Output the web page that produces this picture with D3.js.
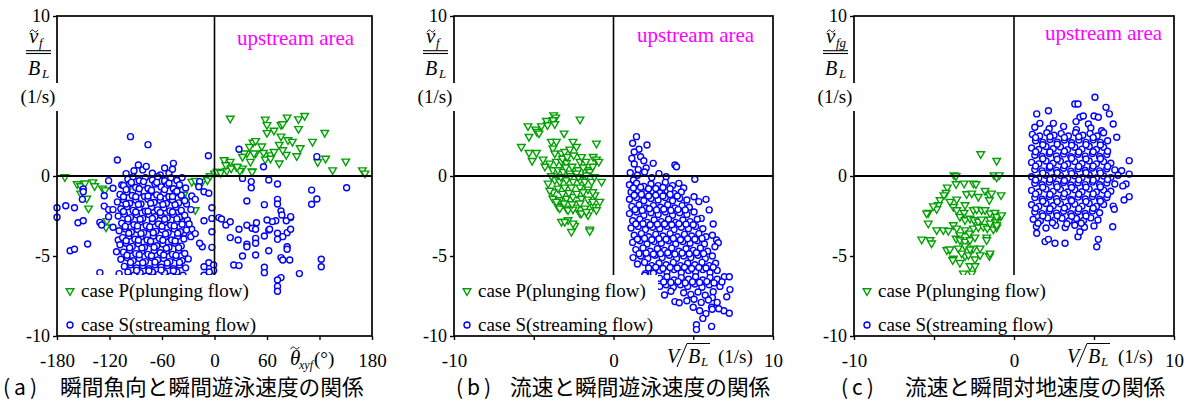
<!DOCTYPE html>
<html>
<head>
<meta charset="utf-8">
<script src="https://cdn.jsdelivr.net/npm/d3@7"></script>
<style>
  body { margin: 0; background: #fff; }
  text { font-family: "Liberation Serif", "Times New Roman", serif; }
  .cap { font-family: "Noto Sans CJK JP", sans-serif; }
</style>
</head>
<body>
<svg width="1190" height="405"></svg>
<script>
// ---- data ----
const yTicks = [-10, -5, 0, 5, 10];
const aXTicks = [-180, -120, -60, 0, 60, 120, 180];
const bcXTicks = [-10, -5, 0, 5, 10];

// (a) fish heading angle (deg) vs swimming speed (1/s)
const aTriangles = [
  [-171,-0.06],[-157,-0.5],[-153,-0.62],[-148,-0.45],[-139,-0.38],[-137,-0.62],[-128,-0.77],[-125,-0.88],
  [-153,-1.08],[-146,-1.4],[-144,-2.02],[-100,-0.92],[-123,-2.8],[-124,-3.2],[-43,-0.88],[-35,-1.15],
  [-37,-1.4],[-33,-1.6],[-22,-2.12],[-26,-0.35],[-22,-0.29],[-14,-0.35],[-8,-0.25],[-5,0],[0,0.17],[4,0.27],[-45,-0.9],
  [3,0.27],[7,0.21],[14,0.33],[11,1.0],[18,0.9],[13,0.69],[19,0.48],[25,0.58],[32,0.48],[29,0.33],[43,0.31],
  [18,3.6],[58,3.54],[60,3.2],[83,3.67],[96,3.56],[103,3.77],[96,2.95],[76,3.2],[78,3.25],[68,2.85],[60,2.7],
  [76,2.48],[84,2.25],[89,2.15],[74,1.96],[44,2.1],[47,2.2],[54,1.86],[40,1.83],[112,2.15],[126,2.71],[98,1.75],
  [94,1.25],[82,1.33],[78,1.63],[74,0.8],[64,1.31],[68,1.52],[47,1.42],[37,1.42],[34,1.42],[45,1.42],[56,1.46],
  [32,1.21],[41,0.9],[43,0.27],[26,0.58],[58,1.04],[64,1.1],[118,0.88],[127,1.1],[135,0.37],[150,0.92],[169,0.37],[172,0.17]
];
const aCircles = [
  [-96,2.46],[-76,1.96],[-111,1.0],[-7,1.27],[-101,0.15],[-47,0.79],[28,1.67],[117,1.21],[56,0.58],
  [-180,-1.98],[-180,-2.58],[-170,-1.86],[-160,-1.98],[-156,-2.92],[-150,-2.8],[-165,-4.67],[-160,-4.58],[-145,-4.25],
  [-150,-0.81],[-150,-0.98],[-151,-1.46],[-131,-6.04],[-126,-1.23],[-121,-0.29],[-116,-0.77],[-106,-0.56],[-126,-1.88],
  [-121,-2.1],[-116,-2.1],[-131,-2.9],[-129,-3.06],[-121,-2.54],[-116,-3.2],[-112,-4.73],[-110,-4.0],
  [-3,-1.98],[-3,-2.65],[-3,-3.48],[-3,-4.46],[-6.5,-5.42],[-3,-6.04],[-12,-5.67],[-14,-4.42],[-17,-4.2],[-12,-2.8],[-26,-3.33],
  [-12,-0.98],[-17,-0.35],[-26,-1.25],[-22,-1.46],[-32,-1.75],[-27,-2.1],[-31,-2.75],[-29,-3.0],[-37,-2.5],[-35,-3.58],
  [-27,-3.79],[-22,-3.6],[5,-2.6],[-1,-5.56],[-1,-5.9],[-12,-6.2],[-6,-6.0],[-18,-0.67],[-6.5,-1.08],
  [32,-0.15],[42,-0.35],[42,-0.73],[62,-0.25],[72,-0.5],[111,-0.88],[117,-1.44],[151,-0.73],
  [37,-1.56],[57,-1.79],[72,-1.46],[72,-1.75],[111,-1.77],[76,-2.19],[77,-2.44],[87,-2.6],[70,-2.8],[66,-2.85],[82,-2.8],[87,-2.54],
  [8,-2.69],[13,-3.06],[18,-2.86],[28,-3.33],[37,-3.08],[43,-3.27],[48,-2.92],[47,-3.33],[62,-3.38],[57,-3.75],[72,-3.58],
  [83,-3.54],[87,-3.33],[78,-3.79],[72,-3.96],[18,-3.85],[27,-4.0],[37,-4.27],[37,-4.42],[47,-3.9],[47,-4.2],[62,-4.67],
  [83,-4.42],[83,-4.58],[32,-5.0],[47,-4.94],[76,-5.1],[78,-5.25],[86,-5.25],[22,-5.56],[28,-5.6],[57,-5.7],[57,-6.04],
  [76,-6.35],[97,-6.1],[122,-5.2],[122,-5.67],[72,-6.5],[72,-6.9],[72,-7.2],[63,-3.33],[60,-2.75],
  // dense cluster
  [-92,0.33],[-87,0.69],[-82,0.38],[-71,0.17],[-62,0.06],[-52,0.17],[-48,0.42],[-78,0.6],[-57,0.5],
  [-99,-0.2],[-93,-0.05],[-86,-0.3],[-79,-0.1],[-71,-0.25],[-65,-0.05],[-57,-0.3],[-50,-0.12],[-43,-0.28],[-37,-0.1],
  [-104,-0.6],[-97,-0.5],[-90,-0.72],[-82,-0.55],[-76,-0.78],[-68,-0.5],[-61,-0.68],[-54,-0.58],[-47,-0.8],[-40,-0.55],[-33,-0.75],
  [-108,-1.15],[-100,-1.0],[-94,-1.22],[-87,-1.05],[-80,-1.28],[-73,-1.02],[-66,-1.18],[-58,-1.08],[-52,-1.3],[-45,-1.05],[-38,-1.2],
  [-111,-1.62],[-104,-1.48],[-97,-1.7],[-90,-1.5],[-84,-1.75],[-76,-1.45],[-69,-1.66],[-62,-1.52],[-55,-1.72],[-48,-1.5],[-41,-1.68],[-34,-1.55],
  [-107,-2.05],[-100,-1.92],[-93,-2.15],[-86,-1.98],[-79,-2.2],[-72,-1.95],[-65,-2.12],[-58,-2.0],[-51,-2.18],[-44,-1.95],[-38,-2.15],
  [-110,-2.5],[-103,-2.38],[-96,-2.6],[-89,-2.42],[-82,-2.65],[-75,-2.4],[-68,-2.55],[-61,-2.45],[-54,-2.62],[-47,-2.4],[-40,-2.58],[-34,-2.45],
  [-106,-2.95],[-99,-2.85],[-92,-3.05],[-85,-2.88],[-78,-3.1],[-71,-2.85],[-64,-3.0],[-57,-2.9],[-50,-3.08],[-43,-2.86],[-37,-3.02],
  [-109,-3.42],[-102,-3.3],[-95,-3.5],[-88,-3.34],[-81,-3.55],[-74,-3.3],[-67,-3.46],[-60,-3.35],[-53,-3.55],[-46,-3.32],[-39,-3.48],[-32,-3.38],
  [-105,-3.85],[-98,-3.76],[-91,-3.95],[-84,-3.8],[-77,-4.0],[-70,-3.75],[-63,-3.9],[-56,-3.8],[-49,-4.0],[-42,-3.76],[-35,-3.94],
  [-108,-4.3],[-101,-4.2],[-94,-4.4],[-87,-4.24],[-80,-4.45],[-73,-4.2],[-66,-4.36],[-59,-4.25],[-52,-4.45],[-45,-4.2],[-38,-4.38],
  [-104,-4.76],[-97,-4.65],[-90,-4.85],[-83,-4.7],[-76,-4.9],[-69,-4.66],[-62,-4.8],[-55,-4.7],[-48,-4.9],[-41,-4.66],[-34,-4.84],
  [-107,-5.2],[-100,-5.1],[-93,-5.3],[-86,-5.15],[-79,-5.35],[-72,-5.1],[-65,-5.25],[-58,-5.15],[-51,-5.35],[-44,-5.1],[-37,-5.3],[-30,-5.18],
  [-103,-5.65],[-96,-5.55],[-89,-5.75],[-82,-5.6],[-75,-5.8],[-68,-5.55],[-61,-5.7],[-54,-5.6],[-47,-5.8],[-40,-5.56],[-33,-5.74],
  [-109,-6.1],[-99,-6.0],[-92,-6.2],[-85,-6.05],[-78,-6.25],[-71,-6.0],[-64,-6.15],[-57,-6.05],[-50,-6.25],[-43,-6.0],[-36,-6.2],
  [-95,-0.4],[-81,-0.35],[-66,-0.4],[-52,-0.45],[-101,-0.85],[-86,-0.8],[-72,-0.9],[-57,-0.85],[-43,-0.95],[-104,-1.3],
  [-90,-1.3],[-76,-1.25],[-62,-1.32],[-48,-1.28],[-101,-1.75],[-87,-1.78],[-73,-1.7],[-59,-1.78],[-45,-1.8],[-104,-2.22],
  [-90,-2.25],[-76,-2.2],[-62,-2.28],[-48,-2.25],[-99,-2.68],[-85,-2.7],[-71,-2.66],[-57,-2.7],[-43,-2.68],[-102,-3.15],
  [-88,-3.12],[-74,-3.18],[-60,-3.14],[-46,-3.12],[-98,-3.58],[-84,-3.6],[-70,-3.55],[-56,-3.62],[-42,-3.58],[-101,-4.05],
  [-87,-4.02],[-73,-4.08],[-59,-4.02],[-45,-4.06],[-97,-4.48],[-83,-4.5],[-69,-4.46],[-55,-4.52],[-41,-4.48],[-100,-4.95],
  [-86,-4.92],[-72,-4.98],[-58,-4.94],[-44,-4.96],[-96,-5.4],[-82,-5.42],[-68,-5.38],[-54,-5.44],[-40,-5.4],[-89,-5.9],
  [-75,-5.92],[-61,-5.88],[-47,-5.92]
];

// (b) flow velocity vs swimming speed
const bTriangles = [
  [-3.75,3.81],[-3.62,3.67],[-3.79,3.5],[-4.2,3.46],[-4.14,3.19],[-4.52,3.12],[-4.88,2.92],[-4.8,2.77],[-4.67,2.67],
  [-5.36,3.12],[-5.3,2.46],[-2.1,3.54],[-3.1,2.67],[-3.68,3.25],[-5.78,1.83],[-5.3,1.46],[-5.1,0.96],[-4.83,1.46],[-4.42,1.04],
  [-3.9,2.15],[-3.58,2.15],[-3.8,1.73],[-3.68,1.42],[-3.26,1.42],[-3.06,1.52],[-2.54,2.15],[-2.74,1.67],[-2.32,1.83],
  [-1.07,2.04],[-1.28,1.21],[-1.07,1.04],[-0.92,0.9],[-4.0,0.79],[-3.58,0.9],[-3.26,0.9],[-2.95,0.83],[-2.1,0.9],[-1.73,0.9],
  [-2.22,0.38],[-1.6,0.38],[-1.49,0.27],[-3.8,0.38],[-3.48,0.38],[-3.16,0.27],[-2.74,0.17],[-2.32,0.17],
  [-4.1,-0.46],[-3.68,-0.25],[-3.37,-0.35],[-2.95,-0.25],[-2.54,-0.35],[-2.1,-0.25],[-1.8,-0.35],[-1.37,-0.35],[-0.75,-0.35],
  [-3.48,-0.77],[-3.06,-0.71],[-2.64,-0.71],[-2.1,-0.71],[-1.6,-0.83],[-3.8,-1.4],[-3.37,-1.5],[-2.95,-1.4],[-2.54,-1.3],
  [-2.01,-1.4],[-1.6,-1.46],[-1.17,-1.19],[-0.86,-1.6],[-3.48,-1.92],[-2.95,-2.02],[-2.32,-1.96],[-1.8,-2.02],[-1.28,-1.92],
  [-3.26,-2.86],[-2.85,-2.75],[-2.1,-2.33],[-1.6,-2.44],[-2.43,-3.1],[-1.49,-3.33],[-3.58,-1.6],[-3.37,-2.02],[-2.85,-2.12],
  [-2.54,-2.08],[-2.01,-2.33],[-1.7,-2.23],[-1.07,-2.12],[-3.06,-2.86],[-2.54,-2.96],[-2.64,-3.48],[-1.49,-3.44],
  [-3.2,1.1],[-2.9,1.2],[-2.5,1.3],[-2.0,1.2],[-4.3,0.6],[-3.0,0.55],[-2.6,0.6],[-1.9,0.55],[-1.3,0.6],[-3.9,0.0],
  [-3.3,-0.05],[-2.7,0.0],[-2.2,-0.05],[-1.7,0.05],[-1.2,-0.05],[-3.8,-1.0],[-3.2,-1.1],[-2.8,-1.05],[-2.3,-1.1],[-1.9,-1.0],
  [-1.3,-1.0],[-3.1,-1.7],[-2.6,-1.75],[-2.1,-1.7],[-1.3,-1.6],[-4.0,-0.9]
];
const bCircles = [
  [1.44,2.46],[1.6,1.67],[2.1,1.94],[2.49,0.79],[3.85,0.69],[3.95,0.58],[1.2,2.05],[1.3,1.5],[1.15,1.1],[1.7,1.2],
  [1.9,0.95],[1.3,0.75],[2.05,0.5],[1.55,0.4],
  [1.05,0.2],[1.5,0.05],[1.95,0.25],[2.4,-0.1],[2.85,0.15],[3.3,-0.05],[1.25,-0.25],[5.1,-0.2],
  [1.0,-0.55],[1.45,-0.45],[1.9,-0.65],[2.35,-0.5],[2.8,-0.6],[3.25,-0.4],[3.7,-0.6],[4.1,-0.46],[4.4,-0.75],
  [1.1,-1.0],[1.55,-0.9],[2.0,-1.1],[2.45,-0.95],[2.9,-1.05],[3.35,-0.9],[3.8,-1.1],[4.25,-1.0],
  [1.0,-1.45],[1.45,-1.35],[1.9,-1.55],[2.35,-1.4],[2.8,-1.5],[3.25,-1.35],[3.7,-1.55],[4.15,-1.4],[4.6,-1.5],[5.05,-1.3],[5.8,-1.46],[5.35,-1.6],
  [1.15,-1.9],[1.6,-1.8],[2.05,-2.0],[2.5,-1.85],[2.95,-1.95],[3.4,-1.8],[3.85,-2.0],[4.3,-1.85],[4.75,-1.95],[6.0,-2.12],
  [1.0,-2.35],[1.45,-2.25],[1.9,-2.45],[2.35,-2.3],[2.8,-2.4],[3.25,-2.25],[3.7,-2.45],[4.15,-2.3],[4.6,-2.4],[5.05,-2.25],[5.5,-2.65],
  [1.2,-2.8],[1.65,-2.7],[2.1,-2.9],[2.55,-2.75],[3.0,-2.85],[3.45,-2.7],[3.9,-2.9],[4.35,-2.75],[4.8,-2.85],[5.25,-2.7],[6.25,-3.0],
  [1.1,-3.25],[1.55,-3.15],[2.0,-3.35],[2.45,-3.2],[2.9,-3.3],[3.35,-3.15],[3.8,-3.35],[4.25,-3.2],[4.7,-3.3],[5.15,-3.15],[5.6,-3.3],
  [1.3,-3.7],[1.75,-3.6],[2.2,-3.8],[2.65,-3.65],[3.1,-3.75],[3.55,-3.6],[4.0,-3.8],[4.45,-3.65],[4.9,-3.75],[5.35,-3.6],[5.8,-3.8],[6.2,-3.7],
  [1.2,-4.15],[1.65,-4.05],[2.1,-4.25],[2.55,-4.1],[3.0,-4.2],[3.45,-4.05],[3.9,-4.25],[4.35,-4.1],[4.8,-4.2],[5.25,-4.05],[5.7,-4.25],
  [6.46,-4.0],[6.57,-4.17],[6.36,-4.42],
  [1.4,-4.6],[1.85,-4.5],[2.3,-4.7],[2.75,-4.55],[3.2,-4.65],[3.65,-4.5],[4.1,-4.7],[4.55,-4.55],[5.0,-4.65],[5.45,-4.5],[5.9,-4.7],
  [1.23,-5.1],[1.7,-5.0],[2.15,-5.15],[2.6,-4.95],[3.05,-5.1],[3.5,-4.95],[3.95,-5.15],[4.4,-5.0],[4.85,-5.1],[5.3,-4.95],[5.75,-5.15],[6.2,-5.0],
  [1.5,-5.5],[1.95,-5.4],[2.4,-5.6],[2.85,-5.45],[3.3,-5.55],[3.75,-5.4],[4.2,-5.6],[4.65,-5.45],[5.1,-5.55],[5.55,-5.4],[6.0,-5.6],[6.4,-5.45],
  [2.0,-6.1],[2.5,-6.08],[2.9,-5.9],[3.35,-6.0],[3.8,-5.85],[4.25,-6.05],[4.7,-5.9],[5.15,-6.0],[5.6,-5.85],[6.05,-6.05],[6.5,-5.9],[1.96,-6.2],
  [2.9,-6.4],[3.35,-6.3],[3.8,-6.5],[4.25,-6.35],[4.7,-6.45],[5.15,-6.3],[5.6,-6.5],[6.05,-6.35],[6.5,-6.45],[6.95,-6.3],[7.26,-6.3],
  [2.9,-6.9],[3.3,-6.8],[3.75,-6.95],[4.2,-6.8],[4.65,-6.9],[5.1,-6.75],[5.55,-6.95],[6.0,-6.8],[6.67,-6.9],[7.3,-7.1],[6.25,-7.23],
  [3.2,-7.44],[3.85,-7.85],[4.12,-7.92],[4.4,-7.3],[4.85,-7.4],[5.3,-7.25],[5.75,-7.45],[6.2,-7.6],[7.1,-7.55],[3.6,-7.2],
  [4.6,-7.8],[5.05,-7.7],[5.5,-7.9],[5.95,-7.75],[6.5,-7.9],[5.0,-8.2],
  [5.4,-8.42],[6.15,-8.2],[6.19,-8.33],[6.92,-8.42],[7.26,-8.58],[5.8,-8.6],[6.6,-8.3],
  [5.2,-9.3],[6.15,-9.4],[5.2,-9.6],[5.6,-8.9],
  [1.25,-0.75],[1.7,-0.7],[2.2,-0.8],[2.65,-0.78],[3.1,-0.72],[3.55,-0.8],[1.3,-1.2],[1.75,-1.15],[2.2,-1.25],[2.65,-1.2],
  [3.1,-1.25],[3.55,-1.15],[4.0,-1.25],[1.35,-2.1],[1.8,-2.15],[2.25,-2.05],[2.7,-2.12],[3.15,-2.08],[3.6,-2.15],[4.05,-2.1],
  [4.5,-2.12],[1.4,-3.0],[1.85,-2.98],[2.3,-3.05],[2.75,-3.02],[3.2,-3.0],[3.65,-3.05],[4.1,-2.98],[4.55,-3.02],[5.0,-3.05],
  [1.5,-3.95],[1.95,-3.9],[2.4,-3.98],[2.85,-3.92],[3.3,-3.95],[3.75,-3.9],[4.2,-3.98],[4.65,-3.92],[5.1,-3.95],[5.55,-3.9],
  [1.6,-4.85],[2.05,-4.82],[2.5,-4.88],[2.95,-4.85],[3.4,-4.8],[3.85,-4.88],[4.3,-4.82],[4.75,-4.86],[5.2,-4.8],[5.65,-4.85],
  [2.2,-5.75],[2.65,-5.7],[3.1,-5.78],[3.55,-5.72],[4.0,-5.75],[4.45,-5.7],[4.9,-5.78],[5.35,-5.72],[5.8,-5.75],[6.25,-5.7],
  [3.15,-6.62],[3.6,-6.65],[4.05,-6.6],[4.5,-6.68],[4.95,-6.62],[5.4,-6.65],[5.85,-6.6],[6.3,-6.68],[6.8,-6.62]
];

// (c) flow velocity vs ground speed
const cTriangles = [
  [-2.08,1.38],[-1.08,0.96],[-3.75,0.06],[-3.62,0.0],[-1.25,0.06],[-1.08,-0.08],[-0.92,0.06],
  [-3.62,-0.5],[-3.12,-0.46],[-2.54,-0.46],[-2.38,-0.5],[-4.17,-0.71],[-4.25,-1.04],[-4.38,-1.19],
  [-2.96,-1.12],[-2.64,-1.08],[-2.23,-1.29],[-1.81,-0.92],[-1.54,-1.19],[-1.4,-1.08],[-0.81,-1.19],[-1.54,-1.5],
  [-4.62,-1.5],[-4.73,-1.81],[-4.83,-2.06],[-5.36,-2.29],[-5.36,-2.96],[-4.0,-1.6],[-3.58,-1.46],[-3.79,-1.92],[-3.58,-2.12],
  [-3.06,-1.81],[-3.12,-2.29],[-2.54,-2.12],[-2.33,-2.08],[-2.02,-2.12],[-1.81,-2.12],[-1.5,-2.33],[-1.19,-2.29],[-0.83,-2.5],
  [-3.38,-2.54],[-3.06,-2.75],[-2.75,-2.65],[-2.5,-2.75],[-2.23,-2.85],[-2.02,-2.71],[-1.5,-2.71],[-1.14,-2.85],
  [-4.83,-3.38],[-4.42,-3.38],[-4.1,-3.42],[-3.79,-3.06],[-3.58,-3.27],[-3.38,-3.69],[-3.06,-3.38],[-2.79,-3.58],[-2.54,-3.27],
  [-2.23,-3.2],[-1.92,-3.17],[-1.67,-3.27],[-1.29,-3.33],[-1.08,-3.2],[-3.62,-3.9],[-5.77,-3.96],[-5.25,-4.0],[-5.15,-4.2],
  [-3.38,-4.0],[-3.06,-4.1],[-2.75,-4.0],[-2.44,-3.83],[-1.71,-3.83],[-4.04,-4.58],[-3.48,-4.52],[-3.06,-4.38],[-2.54,-4.52],
  [-2.12,-4.52],[-1.54,-5.0],[-3.79,-5.15],[-3.38,-5.42],[-3.06,-5.0],[-2.85,-4.94],[-2.44,-5.2],[-2.75,-5.62],[-2.44,-5.62],
  [-3.17,-6.08],[-2.64,-6.08],[-3.83,-5.25],[-4.2,-4.62],[-2.12,-4.94],[-1.5,-4.83],[-5.46,-2.33],[-5.04,-1.88],[-1.08,-2.54],
  [-0.77,-2.44],[-1.5,-2.96],[-1.08,-3.06],[-1.71,-4.0],[-4.0,-4.58],[-3.27,-4.83],[-2.75,-4.58]
];
const cCircles = [
  [5.06,4.92],[3.8,4.5],[4.0,4.5],[1.42,3.88],[2.15,4.08],[5.75,4.29],[5.96,3.88],[6.2,3.25],[5.0,3.75],[5.27,3.67],
  [4.65,3.25],[4.12,3.67],[4.33,3.75],[3.88,3.4],[5.48,2.83],[6.42,2.42],[1.62,3.29],[2.46,3.29],[7.2,0.96],[7.2,0.12],
  [6.73,0.33],[7.0,-0.5],[6.8,-0.62],[7.2,-1.29],[6.88,-1.5],[6.2,-1.88],[6.27,-2.08],[6.17,-3.17],[5.27,-3.96],[5.17,-4.42],
  [1.42,-3.58],[1.94,-4.1],[2.15,-3.96],[2.56,-4.2],[3.19,-4.2],[4.0,-3.79],[4.12,-3.48],
  [1.3,3.05],[2.2,2.95],[3.1,3.1],[3.9,2.9],[4.8,3.0],
  [1.15,2.6],[1.6,2.5],[2.05,2.7],[2.5,2.55],[2.95,2.65],[3.4,2.5],[3.85,2.7],[4.3,2.55],[4.75,2.65],[5.2,2.5],[5.6,2.7],
  [1.35,2.2],[1.8,2.1],[2.25,2.28],[2.7,2.12],[3.15,2.25],[3.6,2.08],[4.05,2.25],[4.5,2.1],[4.95,2.26],[5.4,2.1],[5.85,2.2],
  [1.1,1.75],[1.55,1.66],[2.0,1.84],[2.45,1.7],[2.9,1.82],[3.35,1.65],[3.8,1.8],[4.25,1.68],[4.7,1.84],[5.15,1.66],[5.6,1.8],
  [1.3,1.3],[1.75,1.22],[2.2,1.4],[2.65,1.25],[3.1,1.38],[3.55,1.2],[4.0,1.36],[4.45,1.24],[4.9,1.4],[5.35,1.22],[5.8,1.35],
  [1.1,0.85],[1.55,0.76],[2.0,0.94],[2.45,0.8],[2.9,0.92],[3.35,0.75],[3.8,0.9],[4.25,0.78],[4.7,0.94],[5.15,0.76],[5.6,0.9],[6.05,0.8],
  [1.3,0.4],[1.75,0.32],[2.2,0.5],[2.65,0.35],[3.1,0.48],[3.55,0.3],[4.0,0.46],[4.45,0.34],[4.9,0.5],[5.35,0.32],[5.8,0.45],[6.3,0.38],
  [1.1,-0.05],[1.55,-0.12],[2.0,0.05],[2.45,-0.1],[2.9,0.04],[3.35,-0.14],[3.8,0.02],[4.25,-0.1],[4.7,0.06],[5.15,-0.12],[5.6,0.0],[6.05,-0.1],[6.5,0.05],
  [1.3,-0.45],[1.75,-0.55],[2.2,-0.38],[2.65,-0.52],[3.1,-0.4],[3.55,-0.56],[4.0,-0.42],[4.45,-0.54],[4.9,-0.38],[5.35,-0.55],[5.8,-0.44],[6.3,-0.5],
  [1.1,-0.9],[1.55,-1.0],[2.0,-0.82],[2.45,-0.96],[2.9,-0.84],[3.35,-1.0],[3.8,-0.86],[4.25,-0.98],[4.7,-0.82],[5.15,-1.0],[5.6,-0.88],[6.05,-0.95],
  [1.3,-1.35],[1.75,-1.45],[2.2,-1.28],[2.65,-1.42],[3.1,-1.3],[3.55,-1.46],[4.0,-1.32],[4.45,-1.44],[4.9,-1.28],[5.35,-1.45],[5.8,-1.34],
  [1.1,-1.8],[1.55,-1.9],[2.0,-1.72],[2.45,-1.86],[2.9,-1.74],[3.35,-1.9],[3.8,-1.76],[4.25,-1.88],[4.7,-1.72],[5.15,-1.9],[5.6,-1.78],
  [1.3,-2.25],[1.75,-2.35],[2.2,-2.18],[2.65,-2.32],[3.1,-2.2],[3.55,-2.36],[4.0,-2.22],[4.45,-2.34],[4.9,-2.18],[5.35,-2.3],
  [1.2,-2.7],[1.65,-2.8],[2.1,-2.62],[2.55,-2.76],[3.0,-2.64],[3.45,-2.8],[3.9,-2.66],[4.35,-2.78],[4.8,-2.62],[5.25,-2.75],
  [1.4,-3.15],[2.0,-3.25],[2.6,-3.1],[3.2,-3.22],[3.8,-3.08],[4.4,-3.2],[5.0,-3.12],
  [1.35,2.4],[2.25,2.45],[3.15,2.4],[4.05,2.45],[4.95,2.4],[1.8,1.95],[2.7,1.98],[3.6,1.92],[4.5,1.96],[5.4,1.94],
  [1.35,1.52],[2.25,1.5],[3.15,1.55],[4.05,1.5],[4.95,1.52],[5.85,1.55],[1.8,1.08],[2.7,1.05],[3.6,1.1],[4.5,1.06],
  [5.4,1.08],[1.35,0.62],[2.25,0.6],[3.15,0.65],[4.05,0.6],[4.95,0.62],[5.85,0.6],[1.8,0.18],[2.7,0.2],[3.6,0.15],
  [4.5,0.2],[5.4,0.18],[1.35,-0.25],[2.25,-0.22],[3.15,-0.28],[4.05,-0.24],[4.95,-0.26],[5.85,-0.22],[1.8,-0.7],[2.7,-0.68],
  [3.6,-0.72],[4.5,-0.7],[5.4,-0.68],[1.35,-1.12],[2.25,-1.15],[3.15,-1.1],[4.05,-1.14],[4.95,-1.12],[5.85,-1.15],[1.8,-1.58],
  [2.7,-1.6],[3.6,-1.55],[4.5,-1.6],[5.4,-1.58],[1.35,-2.02],[2.25,-2.05],[3.15,-2.0],[4.05,-2.04],[4.95,-2.02],[1.8,-2.5],
  [2.7,-2.48],[3.6,-2.52],[4.5,-2.5],[1.5,-2.95],[2.4,-2.92],[3.3,-2.98],[4.2,-2.95]
];

const legendLabels = ['case P(plunging flow)', 'case S(streaming flow)'];

// ---- layout ----
const GREEN = '#00a000', BLUE = '#0000ff';
const svg = d3.select('svg').attr('font-family', '"Liberation Serif", serif');
const y = d3.scaleLinear().domain([-10, 10]).range([336, 16]);

const panels = [
  { x0: 57, x1: 372, dom: [-180, 180], ticks: aXTicks, hide: [120], tris: aTriangles, circs: aCircles,
    sub: 'f', up: 237, upY: 45, xt: 'theta', capL: '(a)', capX: 3, capT: '瞬間魚向と瞬間遊泳速度の関係', capTX: 60 },
  { x0: 454, x1: 773, dom: [-10, 10], ticks: bcXTicks, hide: [-5, 5], tris: bTriangles, circs: bCircles,
    sub: 'f', up: 637, upY: 42, xt: 'v', capL: '(b)', capX: 456, capT: '流速と瞬間遊泳速度の関係', capTX: 510 },
  { x0: 854, x1: 1174, dom: [-10, 10], ticks: bcXTicks, hide: [-5, 5], tris: cTriangles, circs: cCircles,
    sub: 'fg', up: 1045, upY: 40, xt: 'v', capL: '(c)', capX: 841, capT: '流速と瞬間対地速度の関係', capTX: 905 }
];

const tri = d3.symbol(d3.symbolTriangle, 25);

function tilde(g, cx, cy, w) {
  g.append('path')
    .attr('d', `M${cx - w / 2},${cy + 1.2} C${cx - w / 4},${cy - 2} ${cx - w / 8},${cy - 1} ${cx},${cy} S${cx + w / 4},${cy + 2} ${cx + w / 2},${cy - 1.2}`)
    .attr('fill', 'none').attr('stroke', '#000').attr('stroke-width', 1);
}

panels.forEach(p => {
  const g = svg.append('g');
  const x = d3.scaleLinear().domain(p.dom).range([p.x0, p.x1]);

  // marks
  g.append('g').selectAll('path').data(p.tris).enter().append('path')
    .attr('transform', d => `translate(${x(d[0])},${y(d[1])}) rotate(180)`)
    .attr('d', tri).attr('fill', '#fff').attr('stroke', GREEN).attr('stroke-width', 1.4);
  g.append('g').selectAll('circle').data(p.circs).enter().append('circle')
    .attr('cx', d => x(d[0])).attr('cy', d => y(d[1])).attr('r', 3)
    .attr('fill', '#fff').attr('stroke', BLUE).attr('stroke-width', 1.4);

  // zero lines
  g.append('line').attr('x1', p.x0).attr('x2', p.x1).attr('y1', y(0)).attr('y2', y(0))
    .attr('stroke', '#000').attr('stroke-width', 1.8);
  g.append('line').attr('x1', x(0)).attr('x2', x(0)).attr('y1', y(10)).attr('y2', y(-10))
    .attr('stroke', '#000').attr('stroke-width', 1.6);

  // legend
  const lg = g.append('g');
  lg.append('rect').attr('x', p.x0 + 1).attr('y', 275).attr('width', 203).attr('height', 60).attr('fill', '#fff');
  lg.append('path').attr('transform', `translate(${p.x0 + 13},${291}) rotate(180)`)
    .attr('d', tri).attr('fill', '#fff').attr('stroke', GREEN).attr('stroke-width', 1.4);
  lg.append('circle').attr('cx', p.x0 + 13).attr('cy', 325).attr('r', 3)
    .attr('fill', '#fff').attr('stroke', BLUE).attr('stroke-width', 1.4);
  lg.selectAll('text').data(legendLabels).enter().append('text')
    .attr('x', p.x0 + 24).attr('y', (d, i) => i ? 331 : 297)
    .attr('font-size', 19).text(d => d);

  // frame
  g.append('rect').attr('x', p.x0).attr('y', y(10)).attr('width', p.x1 - p.x0).attr('height', y(-10) - y(10))
    .attr('fill', 'none').attr('stroke', '#000').attr('stroke-width', 1.7);

  // axes
  const ax = g.append('g').attr('transform', `translate(0,${y(-10)})`)
    .call(d3.axisBottom(x).tickValues(p.ticks).tickSize(4).tickPadding(14)
      .tickFormat(d => p.hide.includes(d) ? '' : String(d)));
  const ay = g.append('g').attr('transform', `translate(${p.x0},0)`)
    .call(d3.axisLeft(y).tickValues(yTicks).tickSize(4).tickPadding(3)
      .tickFormat(d => d === 5 ? '' : String(d)));
  [ax, ay].forEach(a => {
    a.select('.domain').remove();
    a.selectAll('line').attr('stroke', '#000').attr('stroke-width', 1.4);
    a.selectAll('text').attr('fill', '#000').attr('font-family', '"Liberation Serif", serif');
  });
  ax.selectAll('text').attr('font-size', 19);
  ay.selectAll('text').attr('font-size', 18);

  // y title
  const yl = g.append('g');
  yl.append('text').attr('x', p.x0 - 28).attr('y', 43).attr('font-size', 21).attr('font-style', 'italic').text('v');
  tilde(yl, p.x0 - 23, 31, 8);
  yl.append('text').attr('x', p.x0 - 18).attr('y', 47).attr('font-size', 13).attr('font-style', 'italic').text(p.sub);
  [50.7, 53.5].forEach(yy => yl.append('line').attr('x1', p.x0 - 31).attr('x2', p.x0 - 6)
    .attr('y1', yy).attr('y2', yy).attr('stroke', '#000').attr('stroke-width', 1.1));
  yl.append('text').attr('x', p.x0 - 29).attr('y', 75).attr('font-size', 20).attr('font-style', 'italic').text('B');
  yl.append('text').attr('x', p.x0 - 15).attr('y', 78).attr('font-size', 13).attr('font-style', 'italic').text('L');
  yl.append('rect').attr('x', p.x0 - 38).attr('y', 83).attr('width', 40).attr('height', 28).attr('fill', '#fff');
  yl.append('text').attr('x', p.x0 - 19).attr('y', 103).attr('text-anchor', 'middle').attr('font-size', 19).text('(1/s)');

  // x title
  const xl = g.append('g');
  if (p.xt === 'theta') {
    const tx = p.x0 + 233;
    xl.append('rect').attr('x', tx - 3).attr('y', 343).attr('width', 50).attr('height', 30).attr('fill', '#fff');
    xl.append('text').attr('x', tx).attr('y', 365).attr('font-size', 21).attr('font-style', 'italic').text('θ');
    tilde(xl, tx + 5, 348, 9);
    xl.append('text').attr('x', tx + 9).attr('y', 369).attr('font-size', 12).attr('font-style', 'italic').text('xyf');
    xl.append('text').attr('x', tx + 24).attr('y', 365).attr('font-size', 19).text('(°)');
  } else {
    const tx = p.x0 + 213;
    xl.append('text').attr('x', tx).attr('y', 363).attr('font-size', 20).attr('font-style', 'italic').text('V');
    xl.append('path').attr('d', `M${tx + 10},367 L${tx + 20},343.5 L${tx + 43},343.5`)
      .attr('fill', 'none').attr('stroke', '#000').attr('stroke-width', 1);
    xl.append('text').attr('x', tx + 21).attr('y', 363).attr('font-size', 20).attr('font-style', 'italic').text('B');
    xl.append('text').attr('x', tx + 34).attr('y', 366).attr('font-size', 13).attr('font-style', 'italic').text('L');
    xl.append('text').attr('x', tx + 51).attr('y', 363).attr('font-size', 19).text('(1/s)');
  }

  // upstream area
  g.append('text').attr('x', p.up).attr('y', p.upY).attr('font-size', 21).attr('fill', '#ff00ff').text('upstream area');

  // caption
  g.append('text').attr('class', 'cap').attr('x', p.capX).attr('y', 395).attr('font-size', 21)
    .attr('letter-spacing', 4).text(p.capL);
  g.append('text').attr('class', 'cap').attr('x', p.capTX).attr('y', 395).attr('font-size', 21.7).text(p.capT);
});
</script>
</body>
</html>
